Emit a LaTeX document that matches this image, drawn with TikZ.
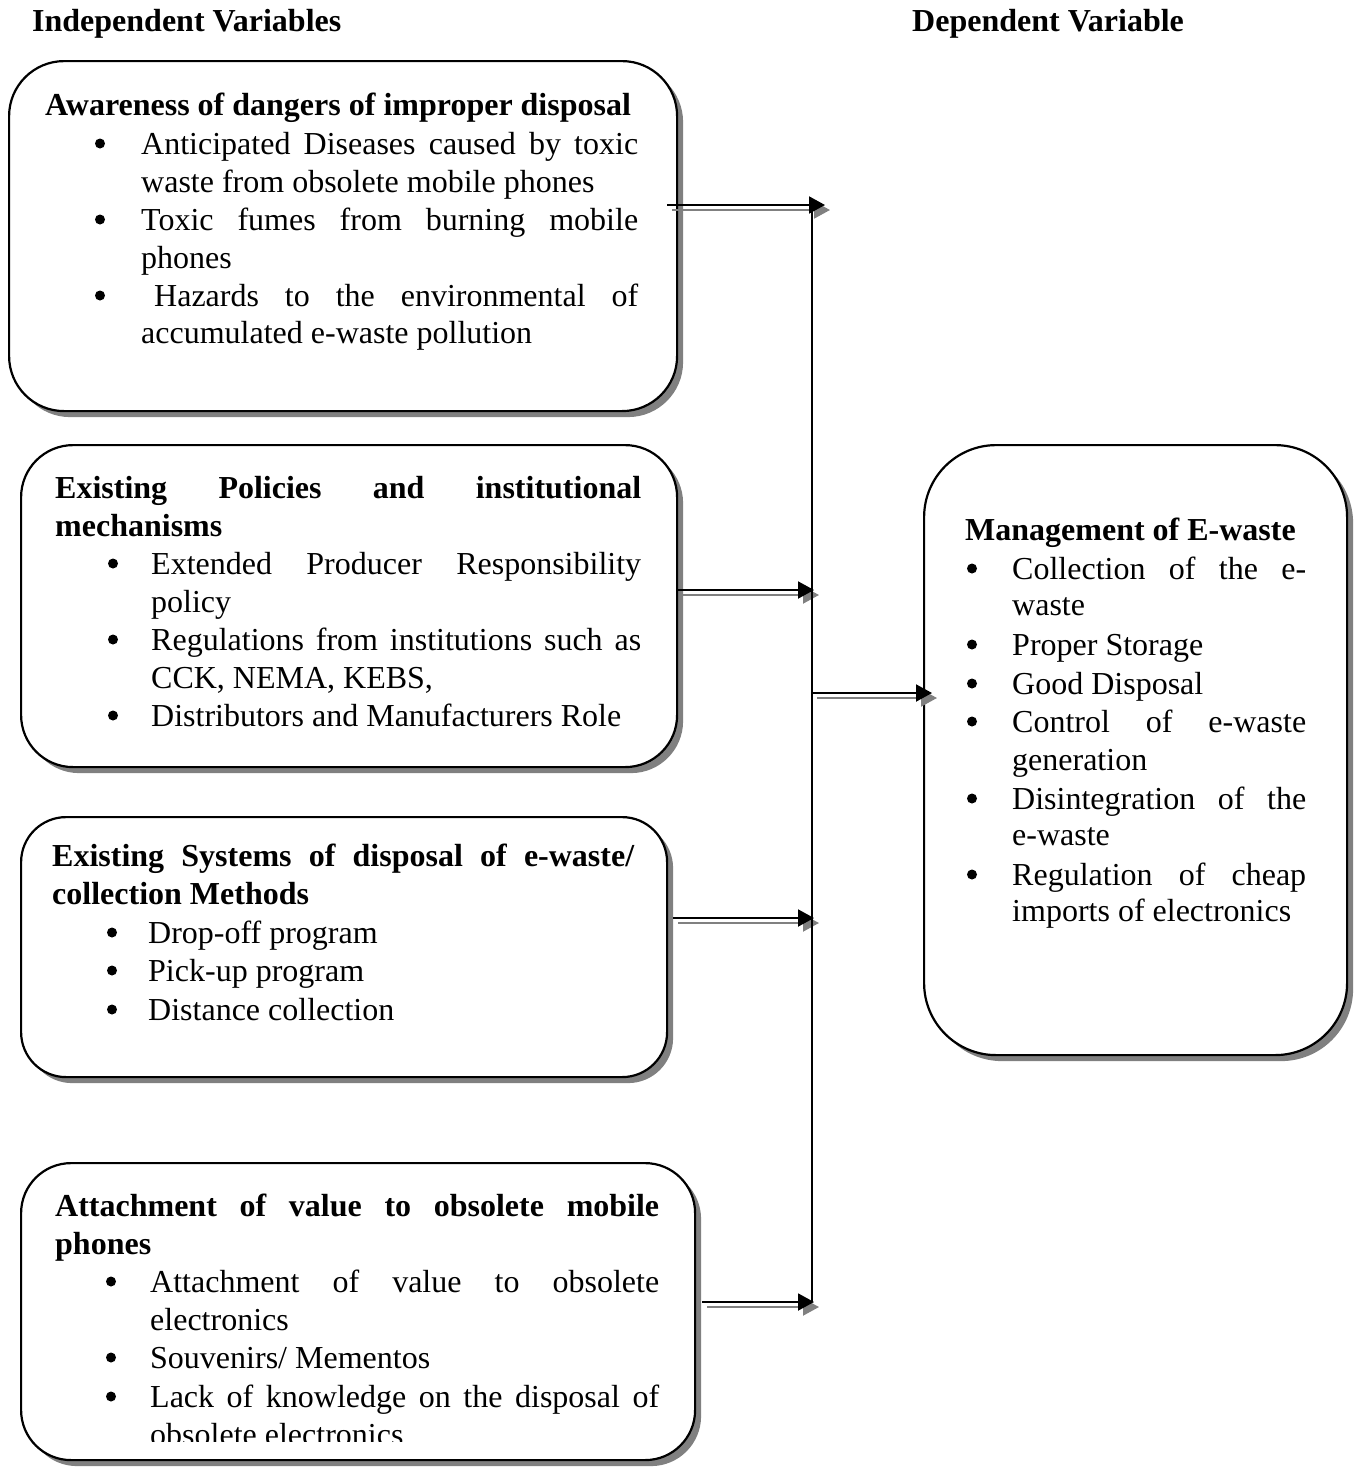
\documentclass[tikz,border=0pt]{standalone}
\usepackage{fontspec}
\setmainfont{Liberation Serif}
\usetikzlibrary{arrows.meta,shadows,calc}
\begin{document}
\begin{tikzpicture}[x=1pt,y=-1pt,
  boxstyle/.style={draw, line width=2.2pt, fill=white, rounded corners=#1, anchor=north west, inner sep=0pt,
    drop shadow={shadow xshift=6pt, shadow yshift=-6pt, fill=gray, opacity=1}},
  txt/.style={anchor=base west, inner sep=0pt, font=\fontsize{32}{38}\selectfont},
  hdr/.style={anchor=base west, inner sep=0pt, font=\fontsize{32}{38}\selectfont\bfseries},
  bul/.style={circle, fill=black, inner sep=0pt, minimum size=10pt, yshift=10.5pt},
  arr/.style={line width=2pt, -{Triangle[length=16pt,width=17pt]}},
  arrsh/.style={arr, draw=gray, fill=gray},
  vline/.style={line width=1.8pt}
]
\useasboundingbox (0,0) rectangle (1362,1470);

% headers
\node[hdr] (hind) at (32,31) {Independent Variables};
\node[hdr] (hdep) at (912,31) {Dependent Variable};

% boxes
\node[boxstyle=55pt, minimum width=668pt, minimum height=350pt] (b1) at (8,60) {};
\node[boxstyle=52pt, minimum width=656pt, minimum height=322pt] (b2) at (20,444) {};
\node[boxstyle=45pt, minimum width=646pt, minimum height=260pt] (b3) at (20,816) {};
\node[boxstyle=50pt, minimum width=674pt, minimum height=297pt] (b4) at (20,1162) {};
\node[boxstyle=72pt, minimum width=423pt, minimum height=610pt] (br) at (923,444) {};

% box 1 text
\node[hdr] (t1h) at (45,115) {Awareness of dangers of improper disposal};
\node[bul] (t1b1) at (100,154) {};
\node[txt] (t1a) at (141,154) {\makebox[497pt][s]{Anticipated Diseases caused by toxic}};
\node[txt] (t1b) at (141,192) {waste from obsolete mobile phones};
\node[bul] (t1b2) at (100,230) {};
\node[txt] (t1c) at (141,230) {\makebox[497pt][s]{Toxic fumes from burning mobile}};
\node[txt] (t1d) at (141,268) {phones};
\node[bul] (t1b3) at (100,306) {};
\node[txt] (t1e) at (154,306) {\makebox[484pt][s]{Hazards to the environmental of}};
\node[txt] (t1f) at (141,343) {accumulated e-waste pollution};

% box 2 text
\node[hdr] (t2h) at (55,498) {\makebox[586pt][s]{Existing Policies and institutional}};
\node[hdr] (t2h2) at (55,536) {mechanisms};
\node[bul] (t2b1) at (113,574) {};
\node[txt] (t2a) at (151,574) {\makebox[490pt][s]{Extended Producer Responsibility}};
\node[txt] (t2b) at (151,612) {policy};
\node[bul] (t2b2) at (113,650) {};
\node[txt] (t2c) at (151,650) {\makebox[490pt][s]{Regulations from institutions such as}};
\node[txt] (t2d) at (151,688) {CCK, NEMA, KEBS,};
\node[bul] (t2b3) at (113,726) {};
\node[txt] (t2e) at (151,726) {Distributors and Manufacturers Role};

% box 3 text
\node[hdr] (t3h) at (52,866) {\makebox[582pt][s]{Existing Systems of disposal of e-waste/}};
\node[hdr] (t3h2) at (52,904) {collection Methods};
\node[bul] (t3b1) at (112,943) {};
\node[txt] (t3a) at (148,943) {Drop-off program};
\node[bul] (t3b2) at (112,981) {};
\node[txt] (t3b) at (148,981) {Pick-up program};
\node[bul] (t3b3) at (112,1020) {};
\node[txt] (t3c) at (148,1020) {Distance collection};

% box 4 text
\node[hdr] (t4h) at (55,1216) {\makebox[604pt][s]{Attachment of value to obsolete mobile}};
\node[hdr] (t4h2) at (55,1254) {phones};
\node[bul] (t4b1) at (111,1292) {};
\node[txt] (t4a) at (150,1292) {\makebox[509pt][s]{Attachment of value to obsolete}};
\node[txt] (t4b) at (150,1330) {electronics};
\node[bul] (t4b2) at (111,1368) {};
\node[txt] (t4c) at (150,1368) {Souvenirs/ Mementos};
\node[bul] (t4b3) at (111,1407) {};
\node[txt] (t4d) at (150,1407) {\makebox[509pt][s]{Lack of knowledge on the disposal of}};
\begin{scope}
\clip (0,0) rectangle (1362,1441);
\node[txt] (t4e) at (150,1445) {obsolete electronics};
\end{scope}

% right box text
\node[hdr] (trh) at (965,540) {Management of E-waste};
\node[bul] (trb1) at (972,579) {};
\node[txt] (tra) at (1012,579) {\makebox[294pt][s]{Collection of the e-}};
\node[txt] (trb) at (1012,615) {waste};
\node[bul] (trb2) at (972,655) {};
\node[txt] (trc) at (1012,655) {Proper Storage};
\node[bul] (trb3) at (972,694) {};
\node[txt] (trd) at (1012,694) {Good Disposal};
\node[bul] (trb4) at (972,732) {};
\node[txt] (tre) at (1012,732) {\makebox[294pt][s]{Control of e-waste}};
\node[txt] (trf) at (1012,770) {generation};
\node[bul] (trb5) at (972,809) {};
\node[txt] (trg) at (1012,809) {\makebox[294pt][s]{Disintegration of the}};
\node[txt] (trh2) at (1012,845) {e-waste};
\node[bul] (trb6) at (972,885) {};
\node[txt] (tri) at (1012,885) {\makebox[294pt][s]{Regulation of cheap}};
\node[txt] (trj) at (1012,921) {imports of electronics};

% connector coordinates
\coordinate (a1s) at (667,205);  \coordinate (a1e) at (825,205);
\coordinate (a2s) at (678,590);  \coordinate (a2e) at (814,590);
\coordinate (a3s) at (673,918);  \coordinate (a3e) at (814,918);
\coordinate (a4s) at (702,1302); \coordinate (a4e) at (814,1302);
\coordinate (acs) at (812,693);  \coordinate (ace) at (932,693);
\coordinate (vtop) at (812,205); \coordinate (vbot) at (812,1302);

% shadows of arrows
\foreach \s/\e in {a1s/a1e,a2s/a2e,a3s/a3e,a4s/a4e,acs/ace}
  \draw[arrsh] ($(\s)+(5,5)$) -- ($(\e)+(5,5)$);
% vertical line
\draw[vline] (vtop) -- (vbot);
% arrows
\foreach \s/\e in {a1s/a1e,a2s/a2e,a3s/a3e,a4s/a4e,acs/ace}
  \draw[arr] (\s) -- (\e);
\end{tikzpicture}
\end{document}
